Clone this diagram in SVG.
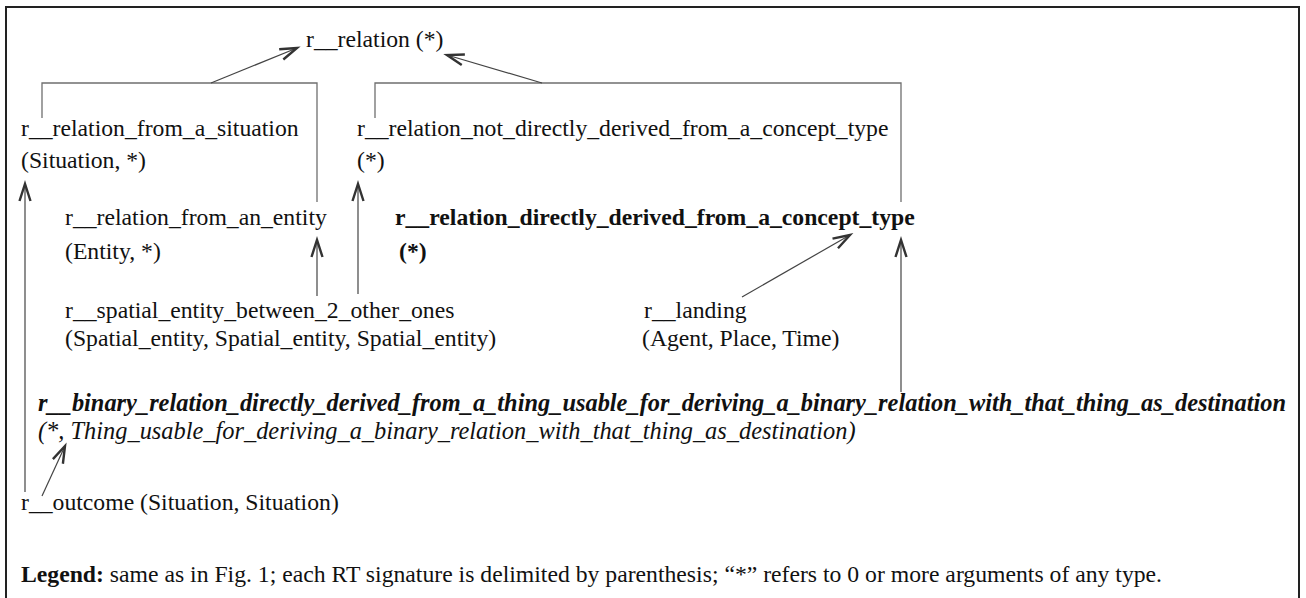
<svg xmlns="http://www.w3.org/2000/svg" width="1306" height="598" viewBox="0 0 1306 598">
<defs>
<style>
text{font-family:"Liberation Serif","Times New Roman",serif;font-size:23.7px;fill:#111}
.b{font-weight:bold}
.bi{font-weight:bold;font-style:italic;font-size:24.4px}
.i{font-style:italic;font-size:24.4px}
.br{fill:none;stroke:#6f6f6f;stroke-width:1.3}
.ar{fill:none;stroke:#444;stroke-width:1.2;marker-end:url(#ah)}
</style>
<marker id="ah" markerUnits="userSpaceOnUse" markerWidth="22" markerHeight="16" refX="18" refY="7" orient="auto">
<path d="M1,1.5 L18,7 L1,12.5" fill="none" stroke="#333" stroke-width="2.4"/>
</marker>
</defs>
<rect width="1306" height="598" fill="#fff"/>
<path d="M6,600 V7 H1299 V600" fill="none" stroke="#222" stroke-width="2"/>
<g id="connectors">
<path class="br" d="M42,118 V83 H317 V202"/>
<path class="ar" d="M211,83 L297,48"/>
<path class="br" d="M375,118 V83 H901 V202"/>
<path class="ar" d="M542,83 L447,55"/>
<path class="ar" d="M25,492 V184"/>
<path class="ar" d="M317,296 V240"/>
<path class="ar" d="M358,294 V184"/>
<path class="ar" d="M742,297 L850,235"/>
<path class="ar" d="M901,392 V240"/>
<path class="ar" d="M42,496 L65,446"/>
</g>
<g id="n-relation"><text x="306" y="47">r__relation (*)</text></g>
<g id="n-situation"><text x="21" y="136">r__relation_from_a_situation</text><text x="21" y="168">(Situation, *)</text></g>
<g id="n-not-directly"><text x="357" y="136">r__relation_not_directly_derived_from_a_concept_type</text><text x="357" y="168">(*)</text></g>
<g id="n-entity"><text x="65" y="225">r__relation_from_an_entity</text><text x="65" y="259">(Entity, *)</text></g>
<g id="n-directly"><text class="b" x="395" y="225">r__relation_directly_derived_from_a_concept_type</text><text class="b" x="399" y="259">(*)</text></g>
<g id="n-spatial"><text x="65" y="318">r__spatial_entity_between_2_other_ones</text><text x="65" y="346">(Spatial_entity, Spatial_entity, Spatial_entity)</text></g>
<g id="n-landing"><text x="644" y="318">r__landing</text><text x="642" y="346">(Agent, Place, Time)</text></g>
<g id="n-binary"><text class="bi" x="38" y="411">r__binary_relation_directly_derived_from_a_thing_usable_for_deriving_a_binary_relation_with_that_thing_as_destination</text><text class="i" x="38" y="439">(*, Thing_usable_for_deriving_a_binary_relation_with_that_thing_as_destination)</text></g>
<g id="n-outcome"><text x="21" y="510">r__outcome (Situation, Situation)</text></g>
<g id="legend"><text x="21" y="582"><tspan class="b">Legend:</tspan> same as in Fig. 1; each RT signature is delimited by parenthesis; “*” refers to 0 or more arguments of any type.</text></g>
</svg>
